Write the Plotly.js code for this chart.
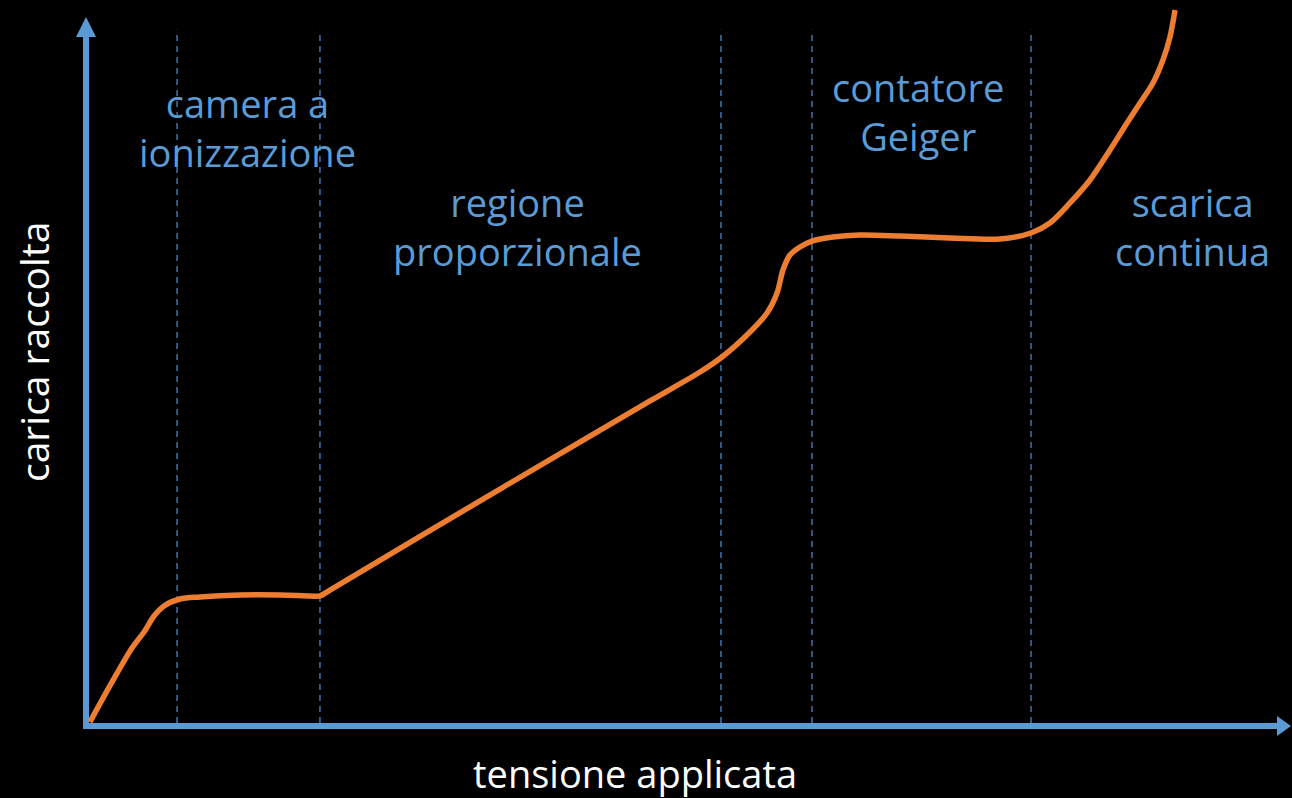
<!DOCTYPE html>
<html>
<head>
<meta charset="utf-8">
<script src="https://cdn.plot.ly/plotly-3.0.1.min.js"></script>
<style>
  html, body { margin: 0; padding: 0; background: #000; }
  #chart { width: 1292px; height: 798px; }
</style>
</head>
<body>
<div id="chart"></div>
<script>
// Applied voltage (arbitrary units) and collected charge (arbitrary units)
const voltage = [0.33, 2.07, 3.81, 4.81, 5.64, 6.47, 7.79, 9.45, 12.77, 16.09, 18.57, 19.40, 20.23,
  34.33, 46.77, 50.91, 52.74, 55.06, 56.47, 57.30, 57.79, 58.37, 59.20, 60.20,
  61.94, 64.18, 67.50, 71.64, 75.79, 78.36, 79.93, 81.59, 83.25, 84.91, 86.32, 87.40,
  88.47, 89.30, 89.88, 90.30];
const charge = [0.55, 5.79, 10.74, 12.95, 15.15, 16.53, 17.49, 17.77, 18.04, 18.04, 17.91, 17.91, 18.73,
  32.64, 44.77, 48.76, 50.83, 54.27, 56.89, 59.64, 62.81, 64.88, 65.98, 66.80,
  67.36, 67.63, 67.49, 67.22, 67.08, 67.91, 69.28, 72.04, 75.21, 79.34, 83.06, 85.81,
  88.57, 91.74, 94.90, 98.62];

// Region boundaries (voltage)
const boundaries = [7.55, 19.40, 52.65, 60.20, 78.36];

// Region labels
const regionLabels = ["camera a<br>ionizzazione", "regione<br>proporzionale", "contatore<br>Geiger", "scarica<br>continua"];
const labelX = [13.35, 35.74, 68.99, 91.71];
const labelY = [82.4, 68.87, 84.71, 68.87];

const xTitle = "tensione applicata";
const yTitle = "carica raccolta";

const BLUE = '#5B9BD5';
const ORANGE = '#ED7D31';
const FONT = '"Open Sans", "Noto Sans", sans-serif';

const trace = {
  x: voltage, y: charge, type: 'scatter', mode: 'lines',
  line: { color: ORANGE, width: 5.5, shape: 'spline', smoothing: 0.85 },
  hoverinfo: 'skip', cliponaxis: false
};

const shapes = boundaries.map(b => ({
  type: 'line', xref: 'x', yref: 'y', x0: b, x1: b, y0: 0.4, y1: 95.9,
  line: { color: '#4d85bf', width: 1.3, dash: '6px,5px' }, layer: 'below'
}));

// axes with arrowheads (paper coordinates; plot area = 1206 x 726 px)
const W = 1206, H = 726;
shapes.push(
  { type: 'line', xref: 'paper', yref: 'paper', x0: 0, x1: 0, y0: -3 / H, y1: (H - 37) / H,
    line: { color: BLUE, width: 6 }, layer: 'below' },
  { type: 'path', xref: 'paper', yref: 'paper', layer: 'below',
    path: `M ${-10 / W} ${(H - 37) / H} L ${10 / W} ${(H - 37) / H} L 0 ${(H - 17) / H} Z`,
    fillcolor: BLUE, line: { width: 0 } },
  { type: 'line', xref: 'paper', yref: 'paper', x0: -3 / W, x1: (1277 - 86) / W, y0: 0, y1: 0,
    line: { color: BLUE, width: 6 }, layer: 'below' },
  { type: 'path', xref: 'paper', yref: 'paper', layer: 'below',
    path: `M ${(1277 - 86) / W} ${10 / H} L ${(1277 - 86) / W} ${-10 / H} L ${(1291 - 86) / W} 0 Z`,
    fillcolor: BLUE, line: { width: 0 } }
);

const annotations = regionLabels.map((t, i) => ({
  text: t, x: labelX[i], y: labelY[i], xref: 'x', yref: 'y', showarrow: false,
  font: { family: FONT, size: 38, color: BLUE }, align: 'center', xanchor: 'center', yanchor: 'middle'
}));
annotations.push(
  { text: xTitle, xref: 'paper', yref: 'paper', x: (635 - 86) / W, y: (H - 773) / H,
    showarrow: false, xanchor: 'center', yanchor: 'middle',
    font: { family: FONT, size: 38, color: '#ffffff' } },
  { text: yTitle, xref: 'paper', yref: 'paper', x: (33 - 86) / W, y: (H - 352) / H,
    showarrow: false, xanchor: 'center', yanchor: 'middle', textangle: -90,
    font: { family: FONT, size: 39, color: '#ffffff' } }
);

const layout = {
  width: 1292, height: 798,
  paper_bgcolor: '#000000', plot_bgcolor: '#000000',
  margin: { l: 86, r: 0, t: 0, b: 72, pad: 0 },
  showlegend: false,
  xaxis: { range: [0, 100], showgrid: false, zeroline: false, showticklabels: false, showline: false, ticks: '' },
  yaxis: { range: [0, 100], showgrid: false, zeroline: false, showticklabels: false, showline: false, ticks: '' },
  shapes: shapes,
  annotations: annotations
};

Plotly.newPlot('chart', [trace], layout, { displayModeBar: false, staticPlot: true });
</script>
</body>
</html>
